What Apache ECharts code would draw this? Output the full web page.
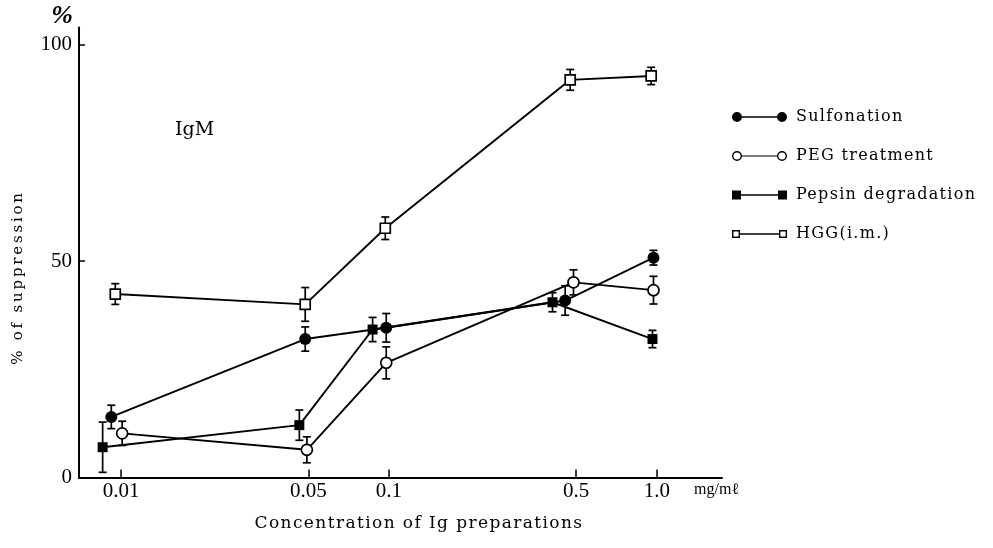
<!DOCTYPE html>
<html><head><meta charset="utf-8">
<script src="https://cdn.jsdelivr.net/npm/echarts@6/dist/echarts.min.js"></script>
<style>html,body{margin:0;padding:0;background:#fff}#chart{width:993px;height:548px}</style>
</head><body><div id="chart"></div>
<script>
// ---- data ----
const tickValues = [0.01, 0.05, 0.1, 0.5, 1.0];
const tickLabels = ['0.01', '0.05', '0.1', '0.5', '1.0'];
const yTickValues = [0, 50, 100];
const seriesNames = ['Sulfonation', 'PEG treatment', 'Pepsin degradation', 'HGG(i.m.)'];

const sulfonationX = [0.0092, 0.0487, 0.0977, 0.4547, 0.9712];
const sulfonationY = [14.0, 32.0, 34.6, 40.9, 50.8];
const sulfonationErr = [2.7, 2.8, 3.3, 3.4, 1.7];

const pegX = [0.0101, 0.0494, 0.0977, 0.4884, 0.9712];
const pegY = [10.2, 6.4, 26.5, 45.1, 43.3];
const pegErr = [2.8, 3.0, 3.7, 2.9, 3.2];

const pepsinX = [0.00854, 0.0463, 0.0869, 0.4077, 0.9630];
const pepsinY = [7.0, 12.1, 34.2, 40.5, 32.0];
const pepsinErr = [5.8, 3.5, 2.8, 2.2, 2.0];

const hggX = [0.00952, 0.0487, 0.0969, 0.4748, 0.9521];
const hggY = [42.4, 40.0, 57.6, 91.9, 92.8];
const hggErr = [2.4, 3.9, 2.6, 2.4, 2.0];

const xMin = 0.00697, xMax = 1.75;

// ---- letter spacing for the widely typeset serif texts ----
const SPACING = {15: 2.8, 16: 1.3, 17: 1.4};
const origFill = CanvasRenderingContext2D.prototype.fillText;
CanvasRenderingContext2D.prototype.fillText = function (t, x, y, w) {
  const f = this.font || '';
  const m = /(\d+(?:\.\d+)?)px/.exec(f);
  let s = 0;
  if (m && f.indexOf('DejaVu Serif') >= 0) s = SPACING[Math.round(+m[1])] || 0;
  if ('letterSpacing' in this) this.letterSpacing = s + 'px';
  return w === undefined ? origFill.call(this, t, x, y) : origFill.call(this, t, x, y, w);
};

const L = v => Math.log10(v);
function labelFor(v) {
  let best = 0;
  tickValues.forEach((t, i) => { if (Math.abs(L(t) - v) < Math.abs(L(tickValues[best]) - v)) best = i; });
  return tickLabels[best];
}
function lineSeries(name, xs, ys, symbol, size, filled) {
  return {
    type: 'line', name, data: xs.map((x, i) => [L(x), ys[i]]),
    symbol, symbolSize: size, showSymbol: true, z: 3,
    lineStyle: {color: '#000', width: 1.9},
    itemStyle: {color: filled ? '#000' : '#fff', borderColor: '#000', borderWidth: filled ? 0 : 1.7},
    emphasis: {disabled: true}
  };
}
function errSeries(name, xs, ys, es) {
  return {
    type: 'custom', name: name + ' error', z: 2, silent: true,
    data: xs.map((x, i) => [L(x), ys[i], es[i]]),
    encode: {x: 0, y: 1},
    renderItem: (params, api) => {
      const x = api.value(0), y = api.value(1), e = api.value(2);
      const top = api.coord([x, y + e]), bot = api.coord([x, y - e]);
      const st = {stroke: '#000', lineWidth: 1.7};
      return {type: 'group', children: [
        {type: 'line', shape: {x1: top[0], y1: top[1], x2: bot[0], y2: bot[1]}, style: st},
        {type: 'line', shape: {x1: top[0] - 4, y1: top[1], x2: top[0] + 4, y2: top[1]}, style: st},
        {type: 'line', shape: {x1: bot[0] - 4, y1: bot[1], x2: bot[0] + 4, y2: bot[1]}, style: st}
      ]};
    }
  };
}
const bar = 'M10 4.2H45V5.8H10Z';
const icons = [
  'path://M0 5A5 5 0 1 0 10 5A5 5 0 1 0 0 5Z' + bar + 'M45 5A5 5 0 1 0 55 5A5 5 0 1 0 45 5Z',
  'path://M0 5A5 5 0 1 0 10 5A5 5 0 1 0 0 5ZM1.4 5A3.6 3.6 0 1 1 8.6 5A3.6 3.6 0 1 1 1.4 5Z' + 'M10 4.4H45V5.6H10Z' +
    'M45 5A5 5 0 1 0 55 5A5 5 0 1 0 45 5ZM46.4 5A3.6 3.6 0 1 1 53.6 5A3.6 3.6 0 1 1 46.4 5Z',
  'path://M0 0.5H9V9.5H0Z' + 'M9 4.2H46V5.8H9Z' + 'M46 0.5H55V9.5H46Z',
  'path://M0 1H8V9H0ZM1.4 2.4V7.6H6.6V2.4Z' + 'M8 4.3H47V5.7H8Z' + 'M47 1H55V9H47ZM48.4 2.4V7.6H53.6V2.4Z'
];

const chart = echarts.init(document.getElementById('chart'), null, {renderer: 'canvas'});
chart.setOption({
  animation: false,
  backgroundColor: '#fff',
  grid: {left: 79, top: 27.5, right: 271, bottom: 70.5, containLabel: false},
  xAxis: {
    type: 'value', min: L(xMin), max: L(xMax),
    axisLine: {onZero: false, lineStyle: {color: '#000', width: 2}},
    splitLine: {show: false},
    axisTick: {inside: true, length: 8, customValues: tickValues.map(L), lineStyle: {color: '#000', width: 1.5}},
    axisLabel: {customValues: tickValues.map(L), formatter: v => labelFor(v),
      fontFamily: 'Liberation Serif', fontSize: 21, color: '#000', margin: 3}
  },
  yAxis: {
    type: 'value', min: 0, max: 104,
    axisLine: {show: true, onZero: false, lineStyle: {color: '#000', width: 2}},
    splitLine: {show: false},
    axisTick: {show: true, inside: true, length: 6, customValues: yTickValues, lineStyle: {color: '#000', width: 1.5}},
    axisLabel: {customValues: yTickValues, fontFamily: 'Liberation Serif', fontSize: 21, color: '#000', margin: 7}
  },
  legend: {
    orient: 'vertical', left: 727, top: 104, itemWidth: 55, itemHeight: 10, itemGap: 23,
    selectedMode: false,
    textStyle: {fontFamily: 'DejaVu Serif', fontSize: 16, color: '#000', padding: [0, 0, 0, 4]},
    data: seriesNames.map((n, i) => ({name: n, icon: icons[i], itemStyle: {color: '#000', borderWidth: 0}}))
  },
  graphic: [
    {type: 'text', x: 62, y: 16, style: {text: '%', font: 'italic bold 26px "Liberation Serif"', fill: '#000', textAlign: 'center', textVerticalAlign: 'middle'}},
    {type: 'text', x: 175, y: 130.5, style: {text: 'IgM', fontFamily: 'DejaVu Serif', fontSize: 19, fill: '#000', textAlign: 'left', textVerticalAlign: 'middle'}},
    {type: 'text', x: 18, y: 277.5, rotation: Math.PI / 2, style: {text: '% of suppression', fontFamily: 'DejaVu Serif', fontSize: 15, fill: '#000', textAlign: 'center', textVerticalAlign: 'middle'}},
    {type: 'text', x: 419, y: 524, style: {text: 'Concentration of Ig preparations', fontFamily: 'DejaVu Serif', fontSize: 17, fill: '#000', textAlign: 'center', textVerticalAlign: 'middle'}},
    {type: 'text', x: 694, y: 490, style: {text: 'mg/mℓ', fontFamily: 'Liberation Serif', fontSize: 16, fill: '#000', textAlign: 'left', textVerticalAlign: 'middle'}}
  ],
  series: [
    errSeries(seriesNames[0], sulfonationX, sulfonationY, sulfonationErr),
    errSeries(seriesNames[1], pegX, pegY, pegErr),
    errSeries(seriesNames[2], pepsinX, pepsinY, pepsinErr),
    errSeries(seriesNames[3], hggX, hggY, hggErr),
    lineSeries(seriesNames[0], sulfonationX, sulfonationY, 'circle', 12, true),
    lineSeries(seriesNames[1], pegX, pegY, 'circle', 11, false),
    lineSeries(seriesNames[2], pepsinX, pepsinY, 'rect', 10, true),
    lineSeries(seriesNames[3], hggX, hggY, 'rect', 10, false)
  ]
});
</script></body></html>
